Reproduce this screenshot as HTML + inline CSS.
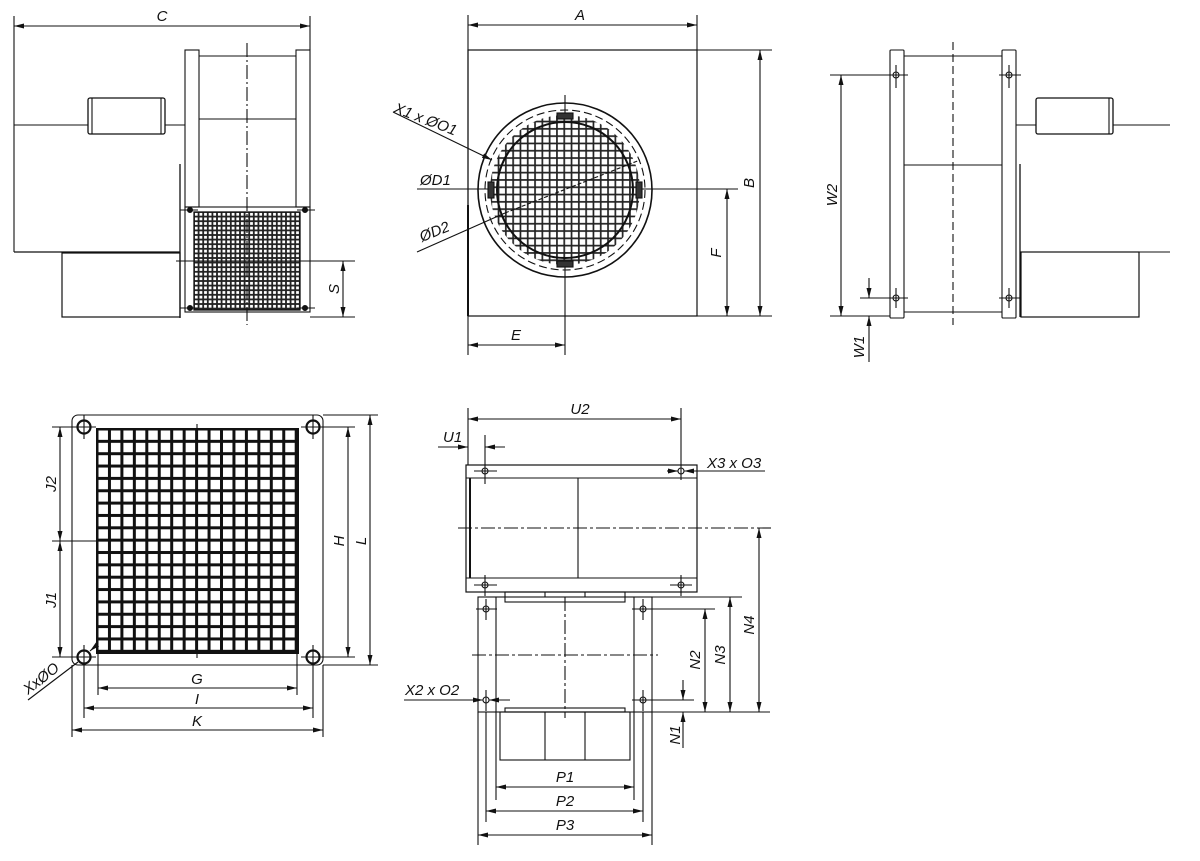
<!DOCTYPE html>
<html><head><meta charset="utf-8"><style>
html,body{margin:0;padding:0;background:#fff;}
svg{display:block}
text{font-family:"Liberation Sans",sans-serif;font-style:italic;font-size:15px;fill:#111}
</style></head><body>
<svg width="1200" height="861" viewBox="0 0 1200 861" xmlns="http://www.w3.org/2000/svg">
<defs>
<marker id="a" viewBox="0 0 10 6" refX="10" refY="3" markerWidth="10" markerHeight="6" orient="auto-start-reverse" markerUnits="userSpaceOnUse"><path d="M0,0.5L10,3L0,5.5z" fill="#111"/></marker>
<pattern id="g1" x="194" y="212" width="4.6" height="4.6" patternUnits="userSpaceOnUse"><rect width="4.6" height="4.6" fill="#222"/><rect x="0.9" y="0.9" width="2.8" height="2.8" fill="#fff"/></pattern>
<pattern id="g2" x="557" y="180" width="7.3" height="7.3" patternUnits="userSpaceOnUse"><rect width="7.3" height="7.3" fill="#222"/><rect x="0.8" y="0.8" width="5.6" height="5.6" fill="#fff"/></pattern>
<pattern id="g3" x="97" y="429" width="12.45" height="12.35" patternUnits="userSpaceOnUse"><rect width="12.45" height="12.35" fill="#111"/><rect x="1.5" y="1.5" width="9.45" height="9.35" fill="#fff"/></pattern>
<clipPath id="cc"><circle cx="565" cy="190" r="75"/></clipPath>
</defs>
<g stroke="#111" fill="none" stroke-width="1.1">

<!-- VIEW 1 -->
<line x1="14" y1="16" x2="14" y2="252"/><line x1="310" y1="16" x2="310" y2="50"/>
<line x1="14" y1="26" x2="310" y2="26" marker-start="url(#a)" marker-end="url(#a)"/>
<line x1="14" y1="252" x2="180" y2="252" stroke-width="1.3"/>
<line x1="14" y1="125" x2="88" y2="125"/><line x1="165" y1="125" x2="185" y2="125"/>
<rect x="88" y="98" width="77" height="36" rx="2" stroke-width="1.3"/><line x1="92" y1="98" x2="92" y2="134"/><line x1="161" y1="98" x2="161" y2="134"/>
<rect x="62" y="253" width="118" height="64" stroke-width="1.2"/>
<line x1="180" y1="164" x2="180" y2="318" stroke-width="1.3"/>
<rect x="185" y="50" width="14" height="157"/><rect x="296" y="50" width="14" height="157"/>
<line x1="199" y1="56" x2="296" y2="56"/><line x1="199" y1="119" x2="296" y2="119"/>
<rect x="185" y="207" width="125" height="105"/>
<rect x="194" y="212" width="106" height="98" fill="url(#g1)" stroke-width="1.3"/>
<line x1="247" y1="43" x2="247" y2="325" stroke-dasharray="14,3,2,3"/>
<g fill="#111"><circle cx="190" cy="210" r="2.5"/><circle cx="305" cy="210" r="2.5"/><circle cx="190" cy="308" r="2.5"/><circle cx="305" cy="308" r="2.5"/></g>
<line x1="180" y1="210" x2="198" y2="210"/><line x1="297" y1="210" x2="315" y2="210"/><line x1="180" y1="308" x2="198" y2="308"/><line x1="297" y1="308" x2="315" y2="308"/>
<line x1="176" y1="261" x2="355" y2="261"/><line x1="310" y1="317" x2="355" y2="317"/>
<line x1="343" y1="261" x2="343" y2="317" marker-start="url(#a)" marker-end="url(#a)"/>

<!-- VIEW 2 -->
<line x1="468" y1="15" x2="468" y2="355"/><line x1="697" y1="15" x2="697" y2="50"/>
<line x1="468" y1="25" x2="697" y2="25" marker-start="url(#a)" marker-end="url(#a)"/>
<rect x="468" y="50" width="229" height="266" stroke-width="1.2"/>
<line x1="468" y1="205" x2="468" y2="316" stroke-width="2"/>
<line x1="697" y1="50" x2="772" y2="50"/><line x1="697" y1="316" x2="772" y2="316"/>
<line x1="760" y1="50" x2="760" y2="316" marker-start="url(#a)" marker-end="url(#a)"/>
<line x1="417" y1="189" x2="738" y2="189"/>
<line x1="727" y1="189" x2="727" y2="316" marker-start="url(#a)" marker-end="url(#a)"/>
<line x1="565" y1="95" x2="565" y2="355"/>
<line x1="468" y1="345" x2="565" y2="345" marker-start="url(#a)" marker-end="url(#a)"/>
<circle cx="565" cy="190" r="87" stroke-width="1.6"/>
<circle cx="565" cy="190" r="80" stroke-dasharray="8,4"/>
<g clip-path="url(#cc)"><rect x="480" y="105" width="170" height="170" fill="url(#g2)" stroke="none"/></g>
<circle cx="565" cy="190" r="68" stroke-width="2"/>
<rect x="557" y="113" width="16" height="6" fill="#333"/><rect x="557" y="261" width="16" height="6" fill="#333"/>
<rect x="488" y="182" width="6" height="16" fill="#333"/><rect x="636" y="182" width="6" height="16" fill="#333"/>
<line x1="417" y1="252" x2="505" y2="213"/><line x1="505" y1="213" x2="640" y2="160" stroke-dasharray="4,2"/>
<line x1="393" y1="112" x2="492" y2="160" marker-end="url(#a)"/>

<!-- VIEW 3 -->
<rect x="890" y="50" width="14" height="268" rx="1"/><rect x="1002" y="50" width="14" height="268" rx="1"/>
<line x1="904" y1="56" x2="1002" y2="56"/><line x1="904" y1="165" x2="1002" y2="165"/><line x1="904" y1="312" x2="1002" y2="312"/>
<line x1="953" y1="42" x2="953" y2="325" stroke-dasharray="8,4"/>
<g><circle cx="896" cy="75" r="3"/><circle cx="1009" cy="75" r="3"/><circle cx="896" cy="298" r="3"/><circle cx="1009" cy="298" r="3"/>
<line x1="886" y1="75" x2="908" y2="75"/><line x1="999" y1="75" x2="1021" y2="75"/><line x1="886" y1="298" x2="908" y2="298"/><line x1="999" y1="298" x2="1021" y2="298"/>
<line x1="896" y1="65" x2="896" y2="88"/><line x1="1009" y1="65" x2="1009" y2="88"/><line x1="896" y1="288" x2="896" y2="308"/><line x1="1009" y1="288" x2="1009" y2="308"/></g>
<rect x="1036" y="98" width="77" height="36" rx="2" stroke-width="1.3"/><line x1="1109" y1="98" x2="1109" y2="134"/>
<line x1="1016" y1="125" x2="1036" y2="125"/><line x1="1113" y1="125" x2="1170" y2="125"/>
<line x1="1020" y1="164" x2="1020" y2="317" stroke-width="1.3"/>
<rect x="1021" y="252" width="118" height="65" stroke-width="1.2"/><line x1="1139" y1="252" x2="1170" y2="252"/>
<line x1="830" y1="75" x2="908" y2="75"/><line x1="830" y1="316" x2="890" y2="316"/>
<line x1="841" y1="75" x2="841" y2="316" marker-start="url(#a)" marker-end="url(#a)"/>
<line x1="860" y1="298" x2="890" y2="298"/>
<line x1="869" y1="278" x2="869" y2="298" marker-end="url(#a)"/><line x1="869" y1="362" x2="869" y2="316" marker-end="url(#a)"/>

<!-- VIEW 4 -->
<rect x="72" y="415" width="251" height="250" rx="6"/>
<rect x="97" y="429" width="201" height="224" fill="url(#g3)" stroke-width="2"/>
<g stroke-width="2.2"><circle cx="84" cy="427" r="6.5"/><circle cx="313" cy="427" r="6.5"/><circle cx="84" cy="657" r="6.5"/><circle cx="313" cy="657" r="6.5"/></g>
<line x1="72" y1="427" x2="96" y2="427"/><line x1="84" y1="415" x2="84" y2="439"/><line x1="301" y1="427" x2="325" y2="427"/><line x1="313" y1="415" x2="313" y2="439"/>
<line x1="72" y1="657" x2="96" y2="657"/><line x1="84" y1="645" x2="84" y2="718"/><line x1="301" y1="657" x2="325" y2="657"/><line x1="313" y1="645" x2="313" y2="718"/>
<line x1="52" y1="427" x2="84" y2="427"/><line x1="52" y1="657" x2="84" y2="657"/><line x1="52" y1="541" x2="298" y2="541"/>
<line x1="197" y1="424" x2="197" y2="430"/><line x1="197" y1="652" x2="197" y2="658"/>
<line x1="60" y1="427" x2="60" y2="541" marker-start="url(#a)" marker-end="url(#a)"/>
<line x1="60" y1="541" x2="60" y2="657" marker-start="url(#a)" marker-end="url(#a)"/>
<line x1="313" y1="427" x2="355" y2="427"/><line x1="313" y1="657" x2="355" y2="657"/>
<line x1="323" y1="415" x2="378" y2="415"/><line x1="323" y1="665" x2="378" y2="665"/>
<line x1="348" y1="427" x2="348" y2="657" marker-start="url(#a)" marker-end="url(#a)"/>
<line x1="370" y1="415" x2="370" y2="665" marker-start="url(#a)" marker-end="url(#a)"/>
<line x1="98" y1="652" x2="98" y2="695"/><line x1="297" y1="652" x2="297" y2="695"/>
<line x1="72" y1="665" x2="72" y2="737"/><line x1="323" y1="665" x2="323" y2="737"/>
<line x1="98" y1="688" x2="297" y2="688" marker-start="url(#a)" marker-end="url(#a)"/>
<line x1="84" y1="708" x2="313" y2="708" marker-start="url(#a)" marker-end="url(#a)"/>
<line x1="72" y1="730" x2="323" y2="730" marker-start="url(#a)" marker-end="url(#a)"/>
<line x1="28" y1="700" x2="78" y2="662"/><line x1="98" y1="644" x2="90" y2="651" marker-end="url(#a)"/>

<!-- VIEW 5 -->
<line x1="468" y1="408" x2="468" y2="465"/><line x1="681" y1="408" x2="681" y2="480"/>
<line x1="468" y1="419" x2="681" y2="419" marker-start="url(#a)" marker-end="url(#a)"/>
<line x1="438" y1="447" x2="468" y2="447" marker-end="url(#a)"/><line x1="505" y1="447" x2="485" y2="447" marker-end="url(#a)"/>
<line x1="485" y1="435" x2="485" y2="484"/>
<rect x="466" y="465" width="231" height="127" stroke-width="1.2"/>
<line x1="466" y1="478" x2="697" y2="478"/><line x1="466" y1="578" x2="697" y2="578"/>
<line x1="470" y1="478" x2="470" y2="578" stroke-width="2"/>
<line x1="578" y1="478" x2="578" y2="578"/>
<line x1="458" y1="528" x2="772" y2="528" stroke-dasharray="14,3,3,3"/>
<g><circle cx="485" cy="471" r="3"/><circle cx="681" cy="471" r="3"/><circle cx="485" cy="585" r="3"/><circle cx="681" cy="585" r="3"/>
<line x1="474" y1="471" x2="497" y2="471"/><line x1="474" y1="585" x2="497" y2="585"/><line x1="485" y1="575" x2="485" y2="596"/>
<line x1="670" y1="585" x2="692" y2="585"/><line x1="681" y1="575" x2="681" y2="596"/></g>
<line x1="667" y1="471" x2="678" y2="471" marker-end="url(#a)"/><line x1="765" y1="471" x2="684" y2="471" marker-end="url(#a)"/>
<rect x="478" y="597" width="174" height="115"/>
<line x1="496" y1="597" x2="496" y2="800"/><line x1="634" y1="597" x2="634" y2="800"/>
<line x1="478" y1="712" x2="478" y2="845"/><line x1="652" y1="712" x2="652" y2="845"/>
<line x1="486" y1="712" x2="486" y2="822"/><line x1="643" y1="712" x2="643" y2="822"/>
<rect x="505" y="592" width="120" height="10"/><line x1="545" y1="592" x2="545" y2="597"/><line x1="585" y1="592" x2="585" y2="597"/>
<line x1="505" y1="712" x2="625" y2="712"/><rect x="505" y="708" width="120" height="4"/>
<rect x="500" y="712" width="130" height="48"/><line x1="545" y1="712" x2="545" y2="760"/><line x1="585" y1="712" x2="585" y2="760"/>
<line x1="472" y1="655" x2="658" y2="655" stroke-dasharray="14,3,3,3"/>
<line x1="565" y1="597" x2="565" y2="718" stroke-dasharray="14,3,3,3"/>
<g><circle cx="486" cy="609" r="3"/><circle cx="643" cy="609" r="3"/><circle cx="486" cy="700" r="3"/><circle cx="643" cy="700" r="3"/>
<line x1="476" y1="609" x2="497" y2="609"/><line x1="486" y1="599" x2="486" y2="620"/><line x1="486" y1="690" x2="486" y2="711"/>
<line x1="632" y1="609" x2="715" y2="609"/><line x1="643" y1="599" x2="643" y2="620"/><line x1="632" y1="700" x2="694" y2="700"/><line x1="643" y1="690" x2="643" y2="711"/></g>
<line x1="404" y1="700" x2="483" y2="700" marker-end="url(#a)"/><line x1="510" y1="700" x2="489" y2="700" marker-end="url(#a)"/>
<line x1="652" y1="597" x2="742" y2="597"/><line x1="652" y1="712" x2="770" y2="712"/>
<line x1="683" y1="680" x2="683" y2="700" marker-end="url(#a)"/><line x1="683" y1="748" x2="683" y2="712" marker-end="url(#a)"/>
<line x1="705" y1="609" x2="705" y2="712" marker-start="url(#a)" marker-end="url(#a)"/>
<line x1="730" y1="597" x2="730" y2="712" marker-start="url(#a)" marker-end="url(#a)"/>
<line x1="759" y1="528" x2="759" y2="712" marker-start="url(#a)" marker-end="url(#a)"/>
<line x1="496" y1="787" x2="634" y2="787" marker-start="url(#a)" marker-end="url(#a)"/>
<line x1="486" y1="811" x2="643" y2="811" marker-start="url(#a)" marker-end="url(#a)"/>
<line x1="478" y1="835" x2="652" y2="835" marker-start="url(#a)" marker-end="url(#a)"/>
</g>

<!-- LABELS -->
<text x="162" y="21" text-anchor="middle">C</text>
<text transform="translate(339,289) rotate(-90)" text-anchor="middle">S</text>
<text x="580" y="20" text-anchor="middle">A</text>
<text transform="translate(754,183) rotate(-90)" text-anchor="middle">B</text>
<text transform="translate(721,253) rotate(-90)" text-anchor="middle">F</text>
<text x="516" y="340" text-anchor="middle">E</text>
<text transform="translate(393,112) rotate(21)">X1 x ØO1</text>
<text x="420" y="185">ØD1</text>
<text transform="translate(422,242) rotate(-22)">ØD2</text>
<text transform="translate(837,195) rotate(-90)" text-anchor="middle">W2</text>
<text transform="translate(864,347) rotate(-90)" text-anchor="middle">W1</text>
<g style="font-size:11px">
<text transform="translate(56,484) rotate(-90)" text-anchor="middle">J2</text>
<text transform="translate(56,600) rotate(-90)" text-anchor="middle">J1</text>
<text transform="translate(344,541) rotate(-90)" text-anchor="middle">H</text>
<text transform="translate(366,541) rotate(-90)" text-anchor="middle">L</text>
<text x="197" y="684" text-anchor="middle">G</text>
<text x="197" y="704" text-anchor="middle">I</text>
<text x="197" y="726" text-anchor="middle">K</text>
<text transform="translate(28,695) rotate(-38)">XxØO</text>
</g>
<text x="580" y="414" text-anchor="middle">U2</text>
<text x="443" y="442">U1</text>
<text x="707" y="468">X3 x O3</text>
<text x="405" y="695">X2 x O2</text>
<text transform="translate(680,735) rotate(-90)" text-anchor="middle">N1</text>
<text transform="translate(700,660) rotate(-90)" text-anchor="middle">N2</text>
<text transform="translate(725,655) rotate(-90)" text-anchor="middle">N3</text>
<text transform="translate(754,625) rotate(-90)" text-anchor="middle">N4</text>
<text x="565" y="782" text-anchor="middle">P1</text>
<text x="565" y="806" text-anchor="middle">P2</text>
<text x="565" y="830" text-anchor="middle">P3</text>
</svg>
</body></html>
